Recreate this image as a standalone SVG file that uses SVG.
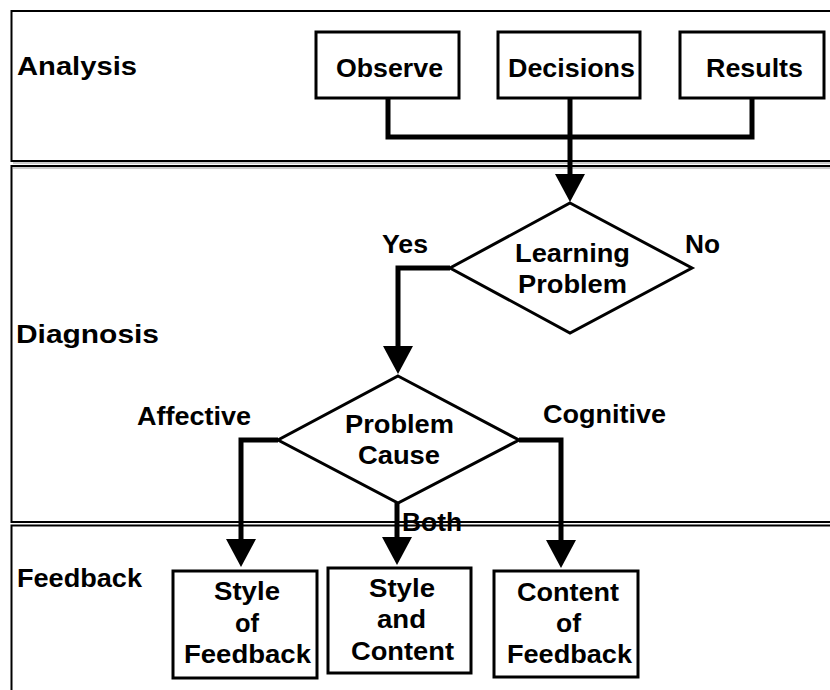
<svg xmlns="http://www.w3.org/2000/svg" width="830" height="690" viewBox="0 0 830 690">
<style>
.lane{fill:none;stroke:#000;stroke-width:2}
.lane2{fill:none;stroke:#999;stroke-width:1}
.box{fill:#fff;stroke:#000;stroke-width:3}
.conn{fill:none;stroke:#000;stroke-width:5;stroke-linejoin:miter;stroke-linecap:butt}
text{font-family:"Liberation Sans",Arial,Helvetica,sans-serif;font-weight:bold;font-size:25px;fill:#000}
</style>
<defs>
<marker id="arr" markerUnits="userSpaceOnUse" markerWidth="28" markerHeight="30" viewBox="0 0 28 30" refX="0" refY="15" orient="auto">
<path d="M0,0 L28,15 L0,30 z" fill="#000"/>
</marker>
</defs>
<rect width="830" height="690" fill="#fff"/>
<g id="lanes">
<g id="lane-analysis">
<rect class="lane" x="11.5" y="11" width="850" height="150"/>
<line class="lane2" x1="13" y1="163" x2="830" y2="163"/>
<text x="17" y="75" textLength="120" lengthAdjust="spacingAndGlyphs">Analysis</text>
</g>
<g id="lane-diagnosis">
<rect class="lane" x="11.5" y="166" width="850" height="356"/>
<line class="lane2" x1="13" y1="168" x2="830" y2="168"/>
<text x="16" y="343" textLength="143" lengthAdjust="spacingAndGlyphs">Diagnosis</text>
</g>
<g id="lane-feedback">
<rect class="lane" x="11.5" y="525.5" width="850" height="200"/>
<text x="17" y="587" textLength="125" lengthAdjust="spacingAndGlyphs">Feedback</text>
</g>
</g>
<g id="connectors">
<polyline class="conn" points="388,98 388,137 752,137 752,98"/>
<line class="conn" x1="570" y1="98" x2="570" y2="174" marker-end="url(#arr)"/>
<polyline class="conn" points="450,268 398,268 398,346" marker-end="url(#arr)"/>
<polyline class="conn" points="278,440 241,440 241,539" marker-end="url(#arr)"/>
<line class="conn" x1="397" y1="503" x2="397" y2="537" marker-end="url(#arr)"/>
<polyline class="conn" points="519,440 561,440 561,540" marker-end="url(#arr)"/>
<text x="382" y="253" textLength="46" lengthAdjust="spacingAndGlyphs">Yes</text>
<text x="685" y="253" textLength="35" lengthAdjust="spacingAndGlyphs">No</text>
<text x="137" y="425" textLength="114" lengthAdjust="spacingAndGlyphs">Affective</text>
<text x="543" y="423" textLength="123" lengthAdjust="spacingAndGlyphs">Cognitive</text>
<text x="402" y="531" textLength="60" lengthAdjust="spacingAndGlyphs">Both</text>
</g>
<g id="observe">
<rect class="box" x="316" y="32" width="143" height="66"/>
<text x="336" y="77" textLength="107" lengthAdjust="spacingAndGlyphs">Observe</text>
</g>
<g id="decisions">
<rect class="box" x="498" y="32" width="142" height="66"/>
<text x="508" y="77" textLength="127" lengthAdjust="spacingAndGlyphs">Decisions</text>
</g>
<g id="results">
<rect class="box" x="680" y="32" width="144" height="66"/>
<text x="706" y="77" textLength="97" lengthAdjust="spacingAndGlyphs">Results</text>
</g>
<g id="learning-problem">
<polygon class="box" points="570,203 692,268 570,333 450,268"/>
<text x="515" y="262" textLength="115" lengthAdjust="spacingAndGlyphs">Learning</text>
<text x="518" y="293" textLength="109" lengthAdjust="spacingAndGlyphs">Problem</text>
</g>
<g id="problem-cause">
<polygon class="box" points="398,376 519,440 398,503 278,440"/>
<text x="345" y="433" textLength="109" lengthAdjust="spacingAndGlyphs">Problem</text>
<text x="358" y="464" textLength="82" lengthAdjust="spacingAndGlyphs">Cause</text>
</g>
<g id="style-of-feedback">
<rect class="box" x="173" y="571" width="144" height="107"/>
<text x="214" y="600" textLength="66" lengthAdjust="spacingAndGlyphs">Style</text>
<text x="235" y="632" textLength="24" lengthAdjust="spacingAndGlyphs">of</text>
<text x="184" y="663" textLength="127" lengthAdjust="spacingAndGlyphs">Feedback</text>
</g>
<g id="style-and-content">
<rect class="box" x="328" y="568" width="143" height="105"/>
<text x="369" y="597" textLength="66" lengthAdjust="spacingAndGlyphs">Style</text>
<text x="377" y="628" textLength="49" lengthAdjust="spacingAndGlyphs">and</text>
<text x="351" y="660" textLength="103" lengthAdjust="spacingAndGlyphs">Content</text>
</g>
<g id="content-of-feedback">
<rect class="box" x="494" y="571" width="144" height="106"/>
<text x="517" y="601" textLength="102" lengthAdjust="spacingAndGlyphs">Content</text>
<text x="556" y="632" textLength="25" lengthAdjust="spacingAndGlyphs">of</text>
<text x="507" y="663" textLength="125" lengthAdjust="spacingAndGlyphs">Feedback</text>
</g>
</svg>
